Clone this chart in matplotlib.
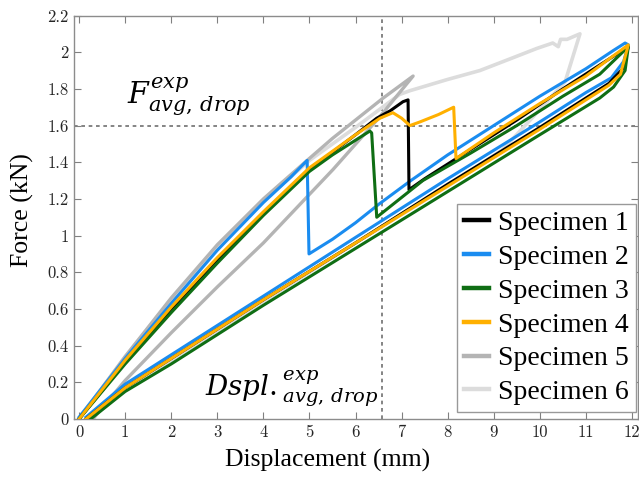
import matplotlib
matplotlib.use("Agg")
import matplotlib.pyplot as plt

# Force-displacement curves (loading, drop, reloading, unloading) per specimen
spec1_x = [0, 1, 2, 3, 4, 5, 6, 6.46, 6.75, 7.03, 7.14, 7.16, 7.5, 8.5, 9.5, 10.5, 11.3, 11.92,
           11.8, 11.5, 11.0, 10.0, 8.0, 6.0, 4.0, 2.0, 1.0, 0.15]
spec1_y = [0, 0.31, 0.60, 0.87, 1.12, 1.36, 1.55, 1.64, 1.68, 1.73, 1.74, 1.25, 1.31, 1.47, 1.63, 1.80, 1.93, 2.03,
           1.91, 1.83, 1.75, 1.59, 1.28, 0.96, 0.65, 0.33, 0.17, 0.0]

spec2_x = [0, 1, 2, 3, 4, 4.6, 4.95, 4.99, 5.5, 6.0, 6.5, 7.2, 8.0, 9.0, 10.0, 11.0, 11.6, 11.85, 11.92,
           11.82, 11.55, 11.0, 10.0, 8.0, 6.0, 4.0, 2.0, 1.0, 0.15]
spec2_y = [0.01, 0.33, 0.63, 0.92, 1.18, 1.32, 1.41, 0.90, 0.98, 1.07, 1.17, 1.30, 1.44, 1.60, 1.76, 1.91, 2.01, 2.05, 2.04,
           1.95, 1.86, 1.78, 1.62, 1.31, 0.99, 0.67, 0.35, 0.19, 0.01]

spec3_x = [0, 1, 2, 3, 4, 5, 5.5, 6.0, 6.31, 6.35, 6.46, 7.46, 8.5, 9.5, 10.5, 11.3, 11.92,
           11.85, 11.6, 11.3, 10.0, 8.0, 6.0, 4.0, 2.0, 1.0, 0.25]
spec3_y = [0, 0.30, 0.58, 0.85, 1.11, 1.35, 1.44, 1.52, 1.57, 1.56, 1.10, 1.30, 1.45, 1.60, 1.76, 1.88, 2.03,
           1.90, 1.81, 1.75, 1.55, 1.24, 0.93, 0.62, 0.30, 0.15, 0.0]

spec4_x = [0, 1, 2, 3, 4, 5, 6, 6.53, 6.81, 7.0, 7.18, 7.4, 7.8, 8.13, 8.18, 9.0, 10.0, 11.0, 11.92,
           11.75, 11.5, 11.0, 10.0, 8.0, 6.0, 4.0, 2.0, 1.0, 0.15]
spec4_y = [0, 0.32, 0.61, 0.88, 1.13, 1.37, 1.55, 1.64, 1.67, 1.64, 1.60, 1.62, 1.66, 1.70, 1.42, 1.56, 1.72, 1.87, 2.04,
           1.88, 1.82, 1.74, 1.58, 1.27, 0.96, 0.65, 0.33, 0.17, 0.0]

spec5_x = [0, 1, 2, 3, 4, 4.36, 4.95, 5.5, 6.0, 6.6, 7.25,
           6.5, 5.51, 4.0, 3.0, 2.0, 1.0, 0.3]
spec5_y = [0, 0.34, 0.66, 0.95, 1.20, 1.28, 1.41, 1.53, 1.63, 1.75, 1.87,
           1.64, 1.36, 0.96, 0.72, 0.47, 0.21, 0.0]

spec6_x = [0, 1, 2, 3, 4, 5, 6, 6.96, 7.18, 7.98, 8.7, 9.42, 9.93, 10.28, 10.4, 10.45, 10.59, 10.87,
           10.55, 9.9, 9.2, 8.6, 8.0, 6.0, 4.0, 2.0, 1.0, 0.25]
spec6_y = [0, 0.34, 0.65, 0.94, 1.19, 1.41, 1.59, 1.77, 1.79, 1.85, 1.90, 1.97, 2.02, 2.05, 2.03, 2.07, 2.07, 2.10,
           1.84, 1.66, 1.47, 1.37, 1.27, 0.96, 0.64, 0.32, 0.16, 0.0]

labels = ["Specimen 1", "Specimen 2", "Specimen 3", "Specimen 4", "Specimen 5", "Specimen 6"]
colors = ["#000000", "#1a8cf0", "#0f6e14", "#ffb000", "#b4b4b4", "#dcdcdc"]

# Average drop force / displacement reference lines
f_drop = 1.6
d_drop = 6.58

x_ticks = list(range(0, 13))
y_ticks = [0, 0.2, 0.4, 0.6, 0.8, 1.0, 1.2, 1.4, 1.6, 1.8, 2.0, 2.2]
y_tick_labels = ["0", "0.2", "0.4", "0.6", "0.8", "1", "1.2", "1.4", "1.6", "1.8", "2", "2.2"]

plt.rcParams["mathtext.fontset"] = "dejavuserif"

fig = plt.figure(figsize=(6.39, 4.79), dpi=100)
ax = fig.add_axes([74 / 639, 60 / 479, 564 / 639, 403.5 / 479])

series = [(spec1_x, spec1_y), (spec2_x, spec2_y), (spec3_x, spec3_y),
          (spec4_x, spec4_y), (spec5_x, spec5_y), (spec6_x, spec6_y)]
zorders = [4, 3, 5, 6, 2, 1]
widths = [2.2, 2.2, 2.2, 2.2, 2.4, 2.6]
for (xs, ys), lab, c, z, lw in zip(series, labels, colors, zorders, widths):
    ax.plot(xs, ys, color=c, lw=lw, label=lab, zorder=z, solid_joinstyle="round")

ax.axhline(f_drop, color="#707070", lw=1.2, ls=(0, (2.2, 2.2)), zorder=0.5)
ax.axvline(d_drop, color="#707070", lw=1.2, ls=(0, (2.2, 2.2)), zorder=0.5)

ax.text(1.04, 1.72, r"$F_{avg,\,drop}^{exp}$", fontsize=21.5, ha="left", va="baseline")
ax.text(2.73, 0.13, r"$Dspl._{avg,\,drop}^{exp}$", fontsize=20, ha="left", va="baseline")

ax.set_xlim(-0.11, 12.13)
ax.set_ylim(0, 2.2)
ax.set_xticks(x_ticks)
ax.set_xticklabels([str(t) for t in x_ticks], fontfamily="cmr10", fontsize=12, color="#262626")
ax.set_yticks(y_ticks)
ax.set_yticklabels(y_tick_labels, fontfamily="cmr10", fontsize=12, color="#262626")
ax.tick_params(direction="in", length=5, width=0.8, color="#808080", top=True, right=True, pad=4)
for s in ax.spines.values():
    s.set_color("#8c8c8c")
    s.set_linewidth(1.0)

ax.set_xlabel("Displacement (mm)", fontfamily="Liberation Serif", fontsize=18.5)
ax.set_ylabel("Force (kN)", fontfamily="Liberation Serif", fontsize=18.5)
ax.xaxis.set_label_coords(0.449, -0.073)
ax.yaxis.set_label_coords(-0.071, 0.518)

leg_handles = [plt.Line2D([], [], color=c, lw=3.2) for c in colors]
leg = ax.legend(leg_handles, labels, loc="lower right",
                bbox_to_anchor=(1 - 2 / 564, 7 / 403.5), borderaxespad=0,
                prop={"family": "Liberation Serif", "size": 20},
                frameon=True, fancybox=False, framealpha=1, edgecolor="#999999",
                handlelength=0.9, handletextpad=0.35, labelspacing=0.30, borderpad=0.25)
leg.get_frame().set_linewidth(1.0)

fig.savefig("out.png", dpi=100)
